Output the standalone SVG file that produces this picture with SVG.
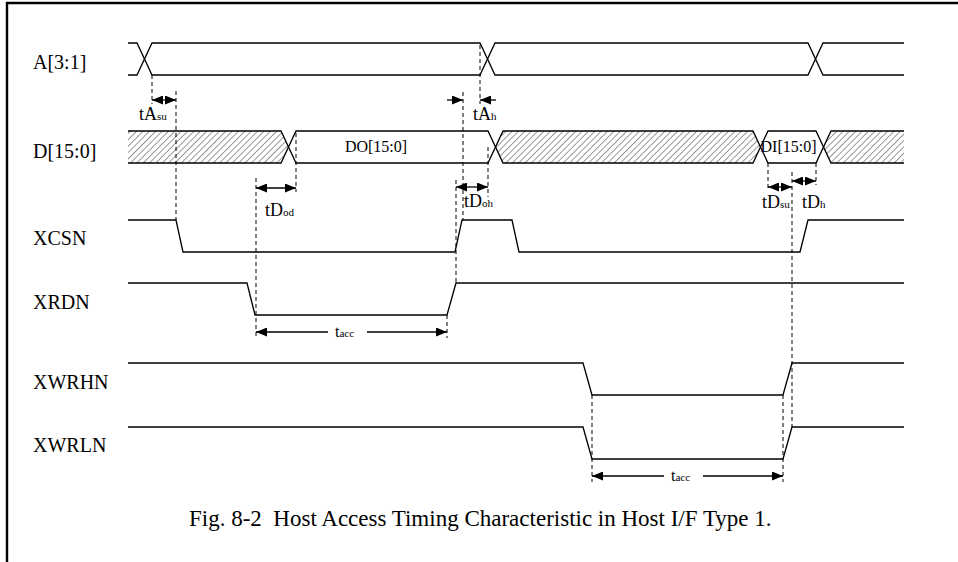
<svg xmlns="http://www.w3.org/2000/svg" width="958" height="562" viewBox="0 0 958 562">
<style>
.sig{fill:none;stroke:#000;stroke-width:1.3}
.lbl{font-family:"Liberation Serif","Times New Roman",serif;font-size:20px;fill:#000}
.bus{font-family:"Liberation Serif","Times New Roman",serif;font-size:16px;fill:#000}
.tm{font-family:"Liberation Serif","Times New Roman",serif;font-size:18px;fill:#000}
.sub{font-size:11px}
.dash{fill:none;stroke:#000;stroke-width:1;stroke-dasharray:4 3}
.dim{fill:none;stroke:#000;stroke-width:1.3}
.cap{font-family:"Liberation Serif","Times New Roman",serif;font-size:23px;fill:#000}
</style>
<defs>
<pattern id="hatch" patternUnits="userSpaceOnUse" width="4.5" height="4.5" patternTransform="rotate(45)">
<line x1="0" y1="0" x2="0" y2="4.5" stroke="#555" stroke-width="1.2"/>
</pattern>
<marker id="ah" markerUnits="userSpaceOnUse" markerWidth="11" markerHeight="9" refX="11" refY="4.5" orient="auto-start-reverse">
<path d="M0,0 L11,4.5 L0,9 z" fill="#000"/>
</marker>
</defs>
<rect width="958" height="562" fill="#fff"/>
<path d="M7,563 V3 H960" fill="none" stroke="#000" stroke-width="2.4"/>

<g id="sig-A">
<text class="lbl" x="33" y="69">A[3:1]</text>
<path class="sig" d="M128,43 H137 L152,75 H480 L495,43 H808 L823,75 H904"/>
<path class="sig" d="M128,75 H137 L152,43 H480 L495,75 H808 L823,43 H904"/>
</g>

<g id="sig-D">
<text class="lbl" x="33" y="158">D[15:0]</text>
<polygon points="128,131 281,131 288.5,147 281,163 128,163" fill="url(#hatch)"/>
<polygon points="495.5,147 503,131 753,131 760.5,147 753,163 503,163" fill="url(#hatch)"/>
<polygon points="823.5,147 831,131 904,131 904,163 831,163" fill="url(#hatch)"/>
<path class="sig" d="M128,131 H281 L296,163 H488 L503,131 H753 L768,163 H816 L831,131 H904"/>
<path class="sig" d="M128,163 H281 L296,131 H488 L503,163 H753 L768,131 H816 L831,163 H904"/>
<text class="bus" x="376" y="152" text-anchor="middle">DO[15:0]</text>
<text class="bus" x="788.5" y="152" text-anchor="middle">DI[15:0]</text>
</g>

<g id="sig-XCSN">
<text class="lbl" x="33" y="245">XCSN</text>
<path class="sig" d="M128,220 H176 L183,252 H455 L462,220 H512 L519,252 H800 L808,220 H904"/>
</g>

<g id="sig-XRDN">
<text class="lbl" x="33" y="309">XRDN</text>
<path class="sig" d="M128,283 H247 L255,315 H447 L456,283 H904"/>
</g>

<g id="sig-XWRHN">
<text class="lbl" x="33" y="389">XWRHN</text>
<path class="sig" d="M128,363 H583 L592,395 H783 L792,363 H904"/>
</g>

<g id="sig-XWRLN">
<text class="lbl" x="33" y="452">XWRLN</text>
<path class="sig" d="M128,427 H583 L592,459 H783 L792,427 H904"/>
</g>

<g id="connectors">
<path class="dash" d="M152,75 V104 M176,91 V220 M256,178 V338 M296,133 V192 M447,315 V338 M456,180 V284 M463,92 V220 M480,45 V104 M488,147 V197 M768,163 V191 M792,172 V427 M816,163 V185 M592,395 V482 M783,395 V482"/>
<line class="dim" x1="152" y1="100" x2="176" y2="100" marker-start="url(#ah)" marker-end="url(#ah)"/>
<line class="dim" x1="447" y1="100" x2="463" y2="100" marker-end="url(#ah)"/>
<line class="dim" x1="496" y1="100" x2="480" y2="100" marker-end="url(#ah)"/>
<line class="dim" x1="256" y1="188" x2="296" y2="188" marker-start="url(#ah)" marker-end="url(#ah)"/>
<line class="dim" x1="456" y1="187" x2="488" y2="187" marker-start="url(#ah)" marker-end="url(#ah)"/>
<line class="dim" x1="768" y1="187" x2="792" y2="187" marker-start="url(#ah)" marker-end="url(#ah)"/>
<line class="dim" x1="792" y1="181" x2="816" y2="181" marker-start="url(#ah)" marker-end="url(#ah)"/>
<line class="dim" x1="256" y1="332" x2="328" y2="332" marker-start="url(#ah)"/>
<line class="dim" x1="367" y1="332" x2="447" y2="332" marker-end="url(#ah)"/>
<line class="dim" x1="592" y1="476" x2="664" y2="476" marker-start="url(#ah)"/>
<line class="dim" x1="703" y1="476" x2="783" y2="476" marker-end="url(#ah)"/>
<text class="tm" x="139" y="120">tA<tspan class="sub">su</tspan></text>
<text class="tm" x="473" y="120">tA<tspan class="sub">h</tspan></text>
<text class="tm" x="265" y="216">tD<tspan class="sub">od</tspan></text>
<text class="tm" x="464" y="207">tD<tspan class="sub">oh</tspan></text>
<text class="tm" x="762" y="208">tD<tspan class="sub">su</tspan></text>
<text class="tm" x="802" y="208">tD<tspan class="sub">h</tspan></text>
<text class="tm" x="335" y="337" style="font-size:16px">t<tspan style="font-size:11px">acc</tspan></text>
<text class="tm" x="671" y="481" style="font-size:16px">t<tspan style="font-size:11px">acc</tspan></text>
</g>

<text class="cap" x="189" y="526" xml:space="preserve">Fig. 8-2  Host Access Timing Characteristic in Host I/F Type 1.</text>
</svg>
